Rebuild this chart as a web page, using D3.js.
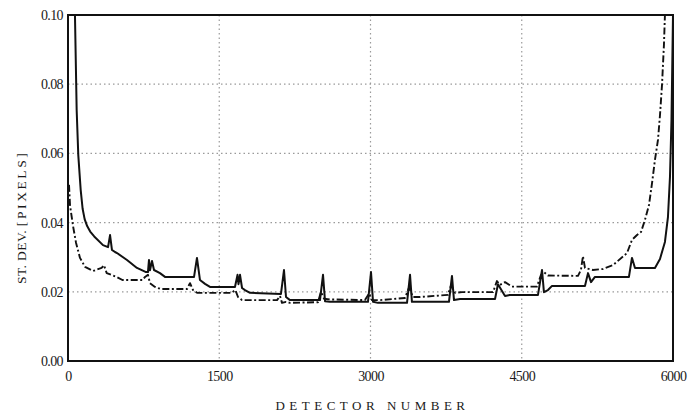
<!DOCTYPE html>
<html>
<head>
<meta charset="utf-8">
<script src="https://cdn.jsdelivr.net/npm/d3@7/dist/d3.min.js"></script>
<style>
  html, body { margin: 0; padding: 0; background: #ffffff; }
  svg { display: block; }
  text { font-family: "Liberation Serif", "DejaVu Serif", serif; fill: #1a1a1a; }
</style>
</head>
<body>
<svg id="chart" width="689" height="416"></svg>
<script>
// ---- data ----
const xTicks = [0, 1500, 3000, 4500, 6000];
const yTicks = [0.00, 0.02, 0.04, 0.06, 0.08, 0.10];
const xTitle = "DETECTOR NUMBER";
const yTitleA = "ST. DEV. ";
const yTitleB = "[PIXELS]";

const solidDet = [69, 86, 102, 126, 145, 165, 190, 220, 260, 347, 397, 417, 436, 466, 486, 585, 684, 774, 793, 803, 813, 833, 853, 912, 962, 1250, 1279, 1309, 1359, 1408, 1656, 1681, 1691, 1706, 1726, 1755, 1805, 2112, 2142, 2162, 2202, 2499, 2529, 2549, 2598, 2975, 3005, 3025, 3074, 3362, 3392, 3411, 3471, 3778, 3808, 3828, 3888, 4235, 4264, 4334, 4383, 4661, 4701, 4720, 4760, 4800, 5127, 5157, 5187, 5226, 5563, 5593, 5623, 5821, 5871, 5920, 5950, 5970, 5985, 6000];
const solidVal = [0.100, 0.0725, 0.0595, 0.0494, 0.0440, 0.0410, 0.0390, 0.0374, 0.0360, 0.0335, 0.0329, 0.0364, 0.0321, 0.0315, 0.0312, 0.0292, 0.0269, 0.0257, 0.0257, 0.0292, 0.0262, 0.0289, 0.0263, 0.0254, 0.0243, 0.0243, 0.0298, 0.0234, 0.0223, 0.0214, 0.0214, 0.0249, 0.0222, 0.0249, 0.0211, 0.0205, 0.0197, 0.0194, 0.0263, 0.0185, 0.0176, 0.0176, 0.0249, 0.0173, 0.0171, 0.0171, 0.0257, 0.0171, 0.0168, 0.0168, 0.0249, 0.0171, 0.0171, 0.0171, 0.0246, 0.0176, 0.0179, 0.0179, 0.0222, 0.0188, 0.0191, 0.0191, 0.0263, 0.0199, 0.0205, 0.0217, 0.0217, 0.0254, 0.0228, 0.0243, 0.0243, 0.0298, 0.0269, 0.0269, 0.0295, 0.0344, 0.0416, 0.0532, 0.0697, 0.100];

const dashDet = [10, 20, 50, 80, 119, 169, 248, 333, 357, 384, 483, 540, 740, 764, 793, 813, 863, 920, 1180, 1210, 1240, 1280, 1620, 1660, 1686, 1726, 2073, 2103, 2122, 2162, 2202, 2479, 2509, 2539, 2598, 2945, 2985, 3015, 3094, 3342, 3382, 3421, 3491, 3768, 3798, 3838, 3907, 4215, 4254, 4284, 4334, 4403, 4651, 4691, 4720, 4760, 5058, 5087, 5107, 5127, 5206, 5306, 5405, 5544, 5593, 5643, 5683, 5722, 5762, 5792, 5821, 5851, 5871, 5891, 5910, 5920];
const dashVal = [0.0509, 0.0450, 0.0390, 0.0341, 0.0298, 0.0272, 0.0260, 0.0269, 0.0277, 0.0254, 0.0243, 0.0234, 0.0234, 0.0243, 0.0249, 0.0225, 0.0214, 0.0208, 0.0208, 0.0225, 0.0205, 0.0197, 0.0197, 0.0205, 0.0185, 0.0176, 0.0176, 0.0188, 0.0168, 0.0171, 0.0168, 0.0170, 0.0200, 0.0180, 0.0178, 0.0176, 0.0195, 0.0176, 0.0176, 0.0182, 0.0212, 0.0185, 0.0185, 0.0191, 0.0218, 0.0197, 0.0199, 0.0199, 0.0231, 0.0220, 0.0228, 0.0215, 0.0215, 0.0249, 0.0257, 0.0247, 0.0246, 0.0263, 0.0303, 0.0269, 0.0263, 0.0266, 0.0277, 0.0312, 0.0350, 0.0364, 0.0373, 0.0408, 0.0451, 0.0514, 0.0581, 0.0639, 0.0711, 0.0798, 0.0913, 0.100];

// ---- layout ----
const W = 689, H = 416;
const m = { left: 68, right: 16, top: 15, bottom: 55 };
const iw = W - m.left - m.right, ih = H - m.top - m.bottom;

const svg = d3.select("#chart");
const g = svg.append("g").attr("transform", `translate(${m.left},${m.top})`);

const x = d3.scaleLinear().domain([0, 6000]).range([0, iw]);
const y = d3.scaleLinear().domain([0, 0.10]).range([ih, 0]);

svg.append("defs").append("clipPath").attr("id", "clip")
  .append("rect").attr("width", iw).attr("height", ih);

// gridlines
g.append("g").selectAll("line").data(xTicks.slice(1, -1)).join("line")
  .attr("x1", d => x(d)).attr("x2", d => x(d)).attr("y1", 0).attr("y2", ih)
  .attr("stroke", "#9a9a9a").attr("stroke-width", 1.2).attr("stroke-dasharray", "1.5,3");
g.append("g").selectAll("line").data(yTicks.slice(1, -1)).join("line")
  .attr("y1", d => y(d)).attr("y2", d => y(d)).attr("x1", 0).attr("x2", iw)
  .attr("stroke", "#9a9a9a").attr("stroke-width", 1.2).attr("stroke-dasharray", "1.5,3");

// axes (labels only)
const xAxis = d3.axisBottom(x).tickValues(xTicks).tickSize(0).tickPadding(10).tickFormat(d3.format("d"));
const gx = g.append("g").attr("transform", `translate(0,${ih})`).call(xAxis);
gx.select(".domain").remove();
gx.selectAll("text").attr("font-size", 14).attr("letter-spacing", -0.6)
  .style("font-family", '"Liberation Serif", serif').attr("fill", "#1a1a1a");

const yAxis = d3.axisLeft(y).tickValues(yTicks).tickSize(0).tickPadding(5).tickFormat(d3.format(".2f"));
const gy = g.append("g").call(yAxis);
gy.select(".domain").remove();
gy.selectAll("text").attr("font-size", 14).attr("letter-spacing", -0.6)
  .style("font-family", '"Liberation Serif", serif').attr("fill", "#1a1a1a");

// series
const solid = solidDet.map((d, i) => [d, solidVal[i]]);
const dash = dashDet.map((d, i) => [d, dashVal[i]]);
const line = d3.line().x(d => x(d[0])).y(d => y(d[1]));

const plot = g.append("g").attr("clip-path", "url(#clip)");
plot.append("path").datum(dash).attr("d", line)
  .attr("fill", "none").attr("stroke", "#111").attr("stroke-width", 1.9)
  .attr("stroke-dasharray", "7,2.5,2,2.5").attr("stroke-linejoin", "round");
plot.append("path").datum(solid).attr("d", line)
  .attr("fill", "none").attr("stroke", "#111").attr("stroke-width", 2)
  .attr("stroke-linejoin", "round");

// frame
g.append("rect").attr("width", iw).attr("height", ih)
  .attr("fill", "none").attr("stroke", "#111").attr("stroke-width", 2);

// titles
svg.append("text").attr("x", m.left + iw / 2 + 2).attr("y", 410)
  .attr("text-anchor", "middle").attr("font-size", 13).attr("letter-spacing", 4.5)
  .text(xTitle);

const yt = svg.append("text")
  .attr("transform", `translate(26,284) rotate(-90)`)
  .attr("text-anchor", "start").attr("font-size", 13.5);
yt.append("tspan").attr("letter-spacing", 0.4).text(yTitleA);
yt.append("tspan").attr("letter-spacing", 2.6).text(yTitleB);
</script>
</body>
</html>
